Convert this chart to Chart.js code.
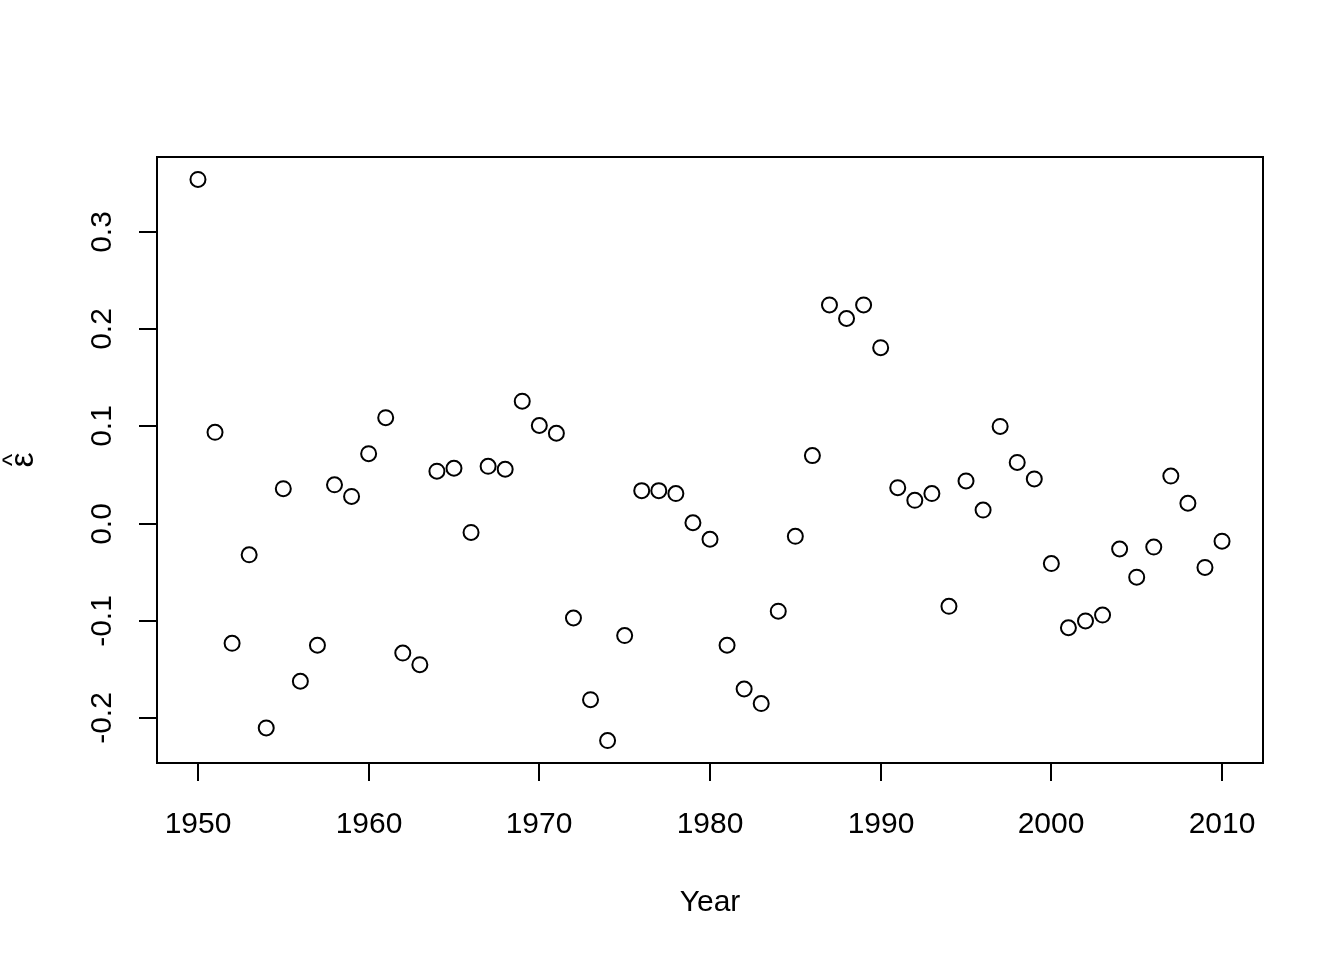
<!DOCTYPE html>
<html>
<head>
<meta charset="utf-8">
<script src="https://cdn.jsdelivr.net/npm/chart.js@4"></script>
<style>
  html, body { margin: 0; padding: 0; background: #fff; }
  #wrap { width: 1344px; height: 960px; }
</style>
</head>
<body>
<div id="wrap"><canvas id="c" width="1344" height="960"></canvas></div>
<script>
// residuals by year
const years = [];
for (let y = 1950; y <= 2010; y++) years.push(y);
const resid = [
  0.354, 0.094, -0.123, -0.032, -0.210, 0.036, -0.162, -0.125, 0.040, 0.028,
  0.072, 0.109, -0.133, -0.145, 0.054, 0.057, -0.009, 0.059, 0.056, 0.126,
  0.101, 0.093, -0.097, -0.181, -0.223, -0.115, 0.034, 0.034, 0.031, 0.001,
  -0.016, -0.125, -0.170, -0.185, -0.090, -0.013, 0.070, 0.225, 0.211, 0.225,
  0.181, 0.037, 0.024, 0.031, -0.085, 0.044, 0.014, 0.100, 0.063, 0.046,
  -0.041, -0.107, -0.100, -0.094, -0.026, -0.055, -0.024, 0.049, 0.021, -0.045,
  -0.018
];
const xTicks = [1950, 1960, 1970, 1980, 1990, 2000, 2010];
const yTicks = [-0.2, -0.1, 0.0, 0.1, 0.2, 0.3];
const yTickLabels = ["-0.2", "-0.1", "0.0", "0.1", "0.2", "0.3"];

// R style 4% range extension
function extend(arr) {
  const lo = Math.min(...arr), hi = Math.max(...arr);
  const p = (hi - lo) * 0.04;
  return [lo - p, hi + p];
}
const xr = extend(years);
const yr = extend(resid);

const FONT = '30px "Liberation Sans", Arial, sans-serif';

const rAxes = {
  id: 'rAxes',
  afterDraw(chart) {
    const ctx = chart.ctx;
    const a = chart.chartArea;
    const sx = chart.scales.x, sy = chart.scales.y;
    ctx.save();
    ctx.strokeStyle = '#000';
    ctx.fillStyle = '#000';
    ctx.lineWidth = 2;
    ctx.strokeRect(a.left, a.top, a.right - a.left, a.bottom - a.top);

    // x axis
    ctx.font = FONT;
    ctx.textAlign = 'center';
    ctx.textBaseline = 'alphabetic';
    xTicks.forEach(t => {
      const px = Math.round(sx.getPixelForValue(t));
      ctx.beginPath();
      ctx.moveTo(px, a.bottom);
      ctx.lineTo(px, a.bottom + 18);
      ctx.stroke();
      ctx.fillText(String(t), px, 833);
    });
    ctx.fillText('Year', (a.left + a.right) / 2, 911);

    // y axis
    yTicks.forEach((t, i) => {
      const py = Math.round(sy.getPixelForValue(t));
      ctx.beginPath();
      ctx.moveTo(a.left, py);
      ctx.lineTo(a.left - 18, py);
      ctx.stroke();
      ctx.save();
      ctx.translate(111, py);
      ctx.rotate(-Math.PI / 2);
      ctx.fillText(yTickLabels[i], 0, 0);
      ctx.restore();
    });

    // y label: epsilon hat
    ctx.save();
    ctx.translate(0, (a.top + a.bottom) / 2);
    ctx.rotate(-Math.PI / 2);
    ctx.textBaseline = 'alphabetic';
    ctx.font = '34px "Liberation Sans", Arial, sans-serif';
    ctx.fillText('ε', 0, 33);
    ctx.font = '26px "Liberation Sans", Arial, sans-serif';
    ctx.fillText('^', 0, 21);
    ctx.restore();
    ctx.restore();
  }
};

new Chart(document.getElementById('c'), {
  type: 'scatter',
  data: {
    datasets: [{
      data: years.map((y, i) => ({ x: y, y: resid[i] })),
      pointStyle: 'circle',
      pointRadius: 7.5,
      pointHoverRadius: 7.5,
      borderWidth: 2,
      borderColor: '#000',
      backgroundColor: 'rgba(0,0,0,0)',
      clip: false
    }]
  },
  options: {
    responsive: false,
    animation: false,
    devicePixelRatio: 1,
    layout: { padding: { left: 157, top: 157, right: 81, bottom: 197 } },
    plugins: { legend: { display: false }, tooltip: { enabled: false } },
    scales: {
      x: { type: 'linear', min: xr[0], max: xr[1], display: false },
      y: { type: 'linear', min: yr[0], max: yr[1], display: false }
    }
  },
  plugins: [rAxes]
});
</script>
</body>
</html>
